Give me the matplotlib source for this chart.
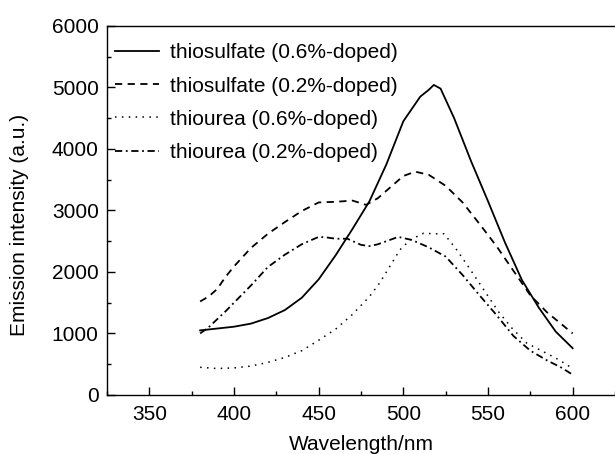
import matplotlib
matplotlib.use("Agg")
import matplotlib.pyplot as plt
from matplotlib.ticker import MultipleLocator

plt.rcParams['font.family'] = ['Liberation Sans', 'DejaVu Sans']

# thiosulfate (0.6%-doped)
wl_s06 = [380, 390, 400, 410, 420, 430, 440, 450, 460, 470, 480, 490, 500,
          510, 515, 518, 522, 530, 540, 550, 560, 570, 580, 590, 600]
em_s06 = [1050, 1080, 1110, 1160, 1250, 1380, 1580, 1880, 2270, 2700, 3150, 3750, 4450,
          4850, 4960, 5040, 4980, 4500, 3800, 3150, 2480, 1870, 1420, 1030, 760]

# thiosulfate (0.2%-doped)
wl_s02 = [380, 385, 390, 395, 400, 410, 420, 430, 440, 450, 460, 465, 470, 478,
          485, 490, 500, 507, 515, 525, 535, 545, 555, 565, 575, 585, 593, 600]
em_s02 = [1520, 1600, 1720, 1920, 2090, 2390, 2620, 2810, 2990, 3130, 3140, 3150, 3160, 3090,
          3200, 3320, 3560, 3630, 3580, 3400, 3130, 2780, 2420, 2020, 1620, 1340, 1160, 1000]

# thiourea (0.6%-doped)
wl_u06 = [380, 390, 400, 410, 420, 430, 440, 450, 460, 470, 480, 486, 492, 498,
          504, 512, 518, 524, 531, 540, 548, 556, 564, 573, 583, 592, 600]
em_u06 = [450, 430, 440, 470, 530, 610, 720, 890, 1070, 1310, 1600, 1820, 2090, 2360,
          2520, 2630, 2620, 2620, 2380, 2020, 1690, 1360, 1090, 840, 700, 570, 430]

# thiourea (0.2%-doped)
wl_u02 = [380, 385, 390, 395, 400, 410, 420, 430, 440, 450, 455, 460, 467, 475,
          480, 485, 490, 497, 505, 515, 525, 535, 545, 555, 565, 575, 585, 593, 600]
em_u02 = [1000, 1100, 1230, 1360, 1500, 1780, 2080, 2280, 2450, 2570, 2560, 2540, 2540, 2440,
          2420, 2450, 2500, 2570, 2520, 2400, 2250, 1950, 1620, 1300, 960, 720, 560, 450, 330]

labels = ['thiosulfate (0.6%-doped)', 'thiosulfate (0.2%-doped)',
          'thiourea (0.6%-doped)', 'thiourea (0.2%-doped)']

fig = plt.figure(figsize=(6.15, 4.54), dpi=100)
ax = fig.add_axes([0.174, 0.130, 0.826, 0.813])

ax.plot(wl_s06, em_s06, color='black', lw=1.3, ls='-', label=labels[0])
ax.plot(wl_s02, em_s02, color='black', lw=1.3, ls=(0, (4, 3)), label=labels[1])
ax.plot(wl_u06, em_u06, color='black', lw=1.1, ls=(0, (1, 3.5)), label=labels[2])
ax.plot(wl_u02, em_u02, color='black', lw=1.3, ls=(0, (4, 2, 1, 2)), label=labels[3])

ax.set_xlim(325, 625)
ax.set_ylim(0, 6000)
ax.xaxis.set_major_locator(MultipleLocator(50))
ax.xaxis.set_minor_locator(MultipleLocator(25))
ax.yaxis.set_major_locator(MultipleLocator(1000))
ax.yaxis.set_minor_locator(MultipleLocator(500))
ax.tick_params(which='both', direction='in', labelsize=15, width=1.0)
ax.tick_params(which='major', length=6)
ax.tick_params(which='minor', length=3)
ax.tick_params(axis='y', pad=6)
ax.tick_params(axis='x', pad=7)
ax.spines['right'].set_visible(False)
for s in ['left', 'bottom', 'top']:
    ax.spines[s].set_linewidth(1.0)

ax.set_xlabel('Wavelength/nm', fontsize=15, labelpad=8)
ax.set_ylabel('Emission intensity (a.u.)', fontsize=15)
ax.yaxis.set_label_coords(-0.153, 0.46)

ax.legend(loc='upper left', bbox_to_anchor=(0.0, 0.975), frameon=False, fontsize=15,
          handlelength=2.1, handletextpad=0.5, labelspacing=0.68,
          borderaxespad=0.2, borderpad=0.2)

fig.savefig('out.png', dpi=100)
